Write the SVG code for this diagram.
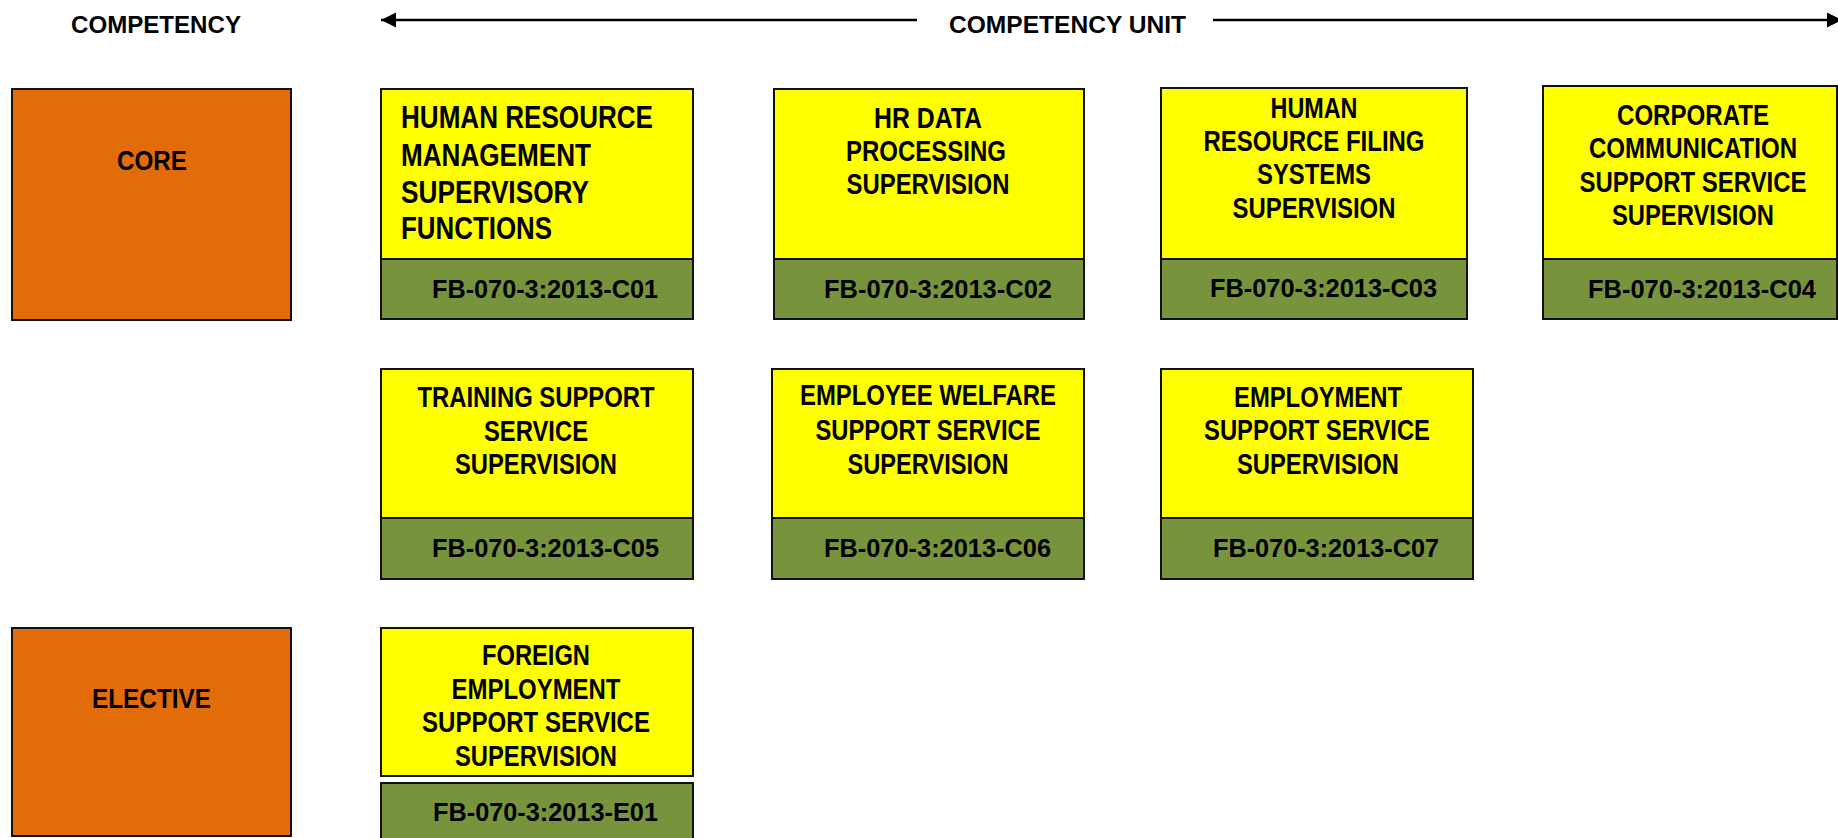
<svg xmlns="http://www.w3.org/2000/svg" width="1838" height="838" viewBox="0 0 1838 838">
  <style>
    .bg { fill: #ffffff; }
    .cat { fill: #E36C0A; stroke: #111111; stroke-width: 2; }
    .unit { fill: #FFFF00; stroke: #111111; stroke-width: 2; }
    .code { fill: #77933C; stroke: #111111; stroke-width: 2; }
    .hdr { font-family: "Liberation Sans", Arial, sans-serif; font-weight: bold; font-size: 24px; fill: #000000; }
    .lbl { font-family: "Liberation Sans", Arial, sans-serif; font-weight: bold; font-size: 27px; fill: #000000; }
    .ttl { font-family: "Liberation Sans Narrow", "Liberation Sans", Arial, sans-serif; font-weight: bold; font-size: 29px; fill: #000000; }
    .ttl-lg { font-size: 32px; }
    .cid { font-family: "Liberation Sans", Arial, sans-serif; font-weight: bold; font-size: 26px; fill: #000000; }
    .span { fill: none; stroke: #000000; stroke-width: 2.5; }
  </style>
  <defs>
    <marker id="head" markerUnits="userSpaceOnUse" markerWidth="16" markerHeight="16" refX="15" refY="7.5" orient="auto">
      <path d="M0,0 L15,7.5 L0,15 Z" fill="#000000"/>
    </marker>
  </defs>

  <rect class="bg" x="0" y="0" width="1838" height="838"/>

  <!-- column headers -->
  <g id="header-competency">
    <text class="hdr" x="71" y="33" textLength="170" lengthAdjust="spacingAndGlyphs">COMPETENCY</text>
  </g>
  <g id="header-unit">
    <text class="hdr" x="949" y="33" textLength="237" lengthAdjust="spacingAndGlyphs">COMPETENCY UNIT</text>
  </g>

  <!-- span arrows either side of the unit header -->
  <g id="connectors">
    <path class="span" d="M917,20 L381,20" marker-end="url(#head)"/>
    <path class="span" d="M1213,20 L1842,20" marker-end="url(#head)"/>
  </g>

  <!-- competency categories -->
  <g id="core">
    <rect class="cat" x="12" y="89" width="279" height="231"/>
    <text class="lbl" x="117" y="170" textLength="70" lengthAdjust="spacingAndGlyphs">CORE</text>
  </g>
  <g id="elective">
    <rect class="cat" x="12" y="628" width="279" height="208"/>
    <text class="lbl" x="92" y="708" textLength="119" lengthAdjust="spacingAndGlyphs">ELECTIVE</text>
  </g>

  <!-- core units, row 1 -->
  <g id="unit-c01">
    <rect class="unit" x="381" y="89" width="312" height="170"/>
    <rect class="code" x="381" y="259" width="312" height="60"/>
    <text class="ttl ttl-lg" x="401" y="128" textLength="252" lengthAdjust="spacingAndGlyphs">HUMAN RESOURCE</text>
    <text class="ttl ttl-lg" x="401" y="166" textLength="190" lengthAdjust="spacingAndGlyphs">MANAGEMENT</text>
    <text class="ttl ttl-lg" x="401" y="203" textLength="188" lengthAdjust="spacingAndGlyphs">SUPERVISORY</text>
    <text class="ttl ttl-lg" x="401" y="239" textLength="151" lengthAdjust="spacingAndGlyphs">FUNCTIONS</text>
    <text class="cid" x="432" y="298" textLength="226" lengthAdjust="spacingAndGlyphs">FB-070-3:2013-C01</text>
  </g>

  <g id="unit-c02">
    <rect class="unit" x="774" y="89" width="310" height="170"/>
    <rect class="code" x="774" y="259" width="310" height="60"/>
    <g text-anchor="middle">
      <text class="ttl" x="928" y="128" textLength="108" lengthAdjust="spacingAndGlyphs">HR DATA</text>
      <text class="ttl" x="926" y="161" textLength="160" lengthAdjust="spacingAndGlyphs">PROCESSING</text>
      <text class="ttl" x="928" y="194" textLength="163" lengthAdjust="spacingAndGlyphs">SUPERVISION</text>
    </g>
    <text class="cid" x="824" y="298" textLength="228" lengthAdjust="spacingAndGlyphs">FB-070-3:2013-C02</text>
  </g>

  <g id="unit-c03">
    <rect class="unit" x="1161" y="88" width="306" height="171"/>
    <rect class="code" x="1161" y="259" width="306" height="60"/>
    <g text-anchor="middle">
      <text class="ttl" x="1314" y="118" textLength="87" lengthAdjust="spacingAndGlyphs">HUMAN</text>
      <text class="ttl" x="1314" y="151" textLength="221" lengthAdjust="spacingAndGlyphs">RESOURCE FILING</text>
      <text class="ttl" x="1314" y="184" textLength="114" lengthAdjust="spacingAndGlyphs">SYSTEMS</text>
      <text class="ttl" x="1314" y="218" textLength="163" lengthAdjust="spacingAndGlyphs">SUPERVISION</text>
    </g>
    <text class="cid" x="1210" y="297" textLength="227" lengthAdjust="spacingAndGlyphs">FB-070-3:2013-C03</text>
  </g>

  <g id="unit-c04">
    <rect class="unit" x="1543" y="86" width="294" height="173"/>
    <rect class="code" x="1543" y="259" width="294" height="60"/>
    <g text-anchor="middle">
      <text class="ttl" x="1693" y="125" textLength="152" lengthAdjust="spacingAndGlyphs">CORPORATE</text>
      <text class="ttl" x="1693" y="158" textLength="208" lengthAdjust="spacingAndGlyphs">COMMUNICATION</text>
      <text class="ttl" x="1693" y="192" textLength="227" lengthAdjust="spacingAndGlyphs">SUPPORT SERVICE</text>
      <text class="ttl" x="1693" y="225" textLength="162" lengthAdjust="spacingAndGlyphs">SUPERVISION</text>
    </g>
    <text class="cid" x="1588" y="298" textLength="228" lengthAdjust="spacingAndGlyphs">FB-070-3:2013-C04</text>
  </g>

  <!-- core units, row 2 -->
  <g id="unit-c05">
    <rect class="unit" x="381" y="369" width="312" height="149"/>
    <rect class="code" x="381" y="518" width="312" height="61"/>
    <g text-anchor="middle">
      <text class="ttl" x="536" y="407" textLength="237" lengthAdjust="spacingAndGlyphs">TRAINING SUPPORT</text>
      <text class="ttl" x="536" y="441" textLength="104" lengthAdjust="spacingAndGlyphs">SERVICE</text>
      <text class="ttl" x="536" y="474" textLength="162" lengthAdjust="spacingAndGlyphs">SUPERVISION</text>
    </g>
    <text class="cid" x="432" y="557" textLength="227" lengthAdjust="spacingAndGlyphs">FB-070-3:2013-C05</text>
  </g>

  <g id="unit-c06">
    <rect class="unit" x="772" y="369" width="312" height="149"/>
    <rect class="code" x="772" y="518" width="312" height="61"/>
    <g text-anchor="middle">
      <text class="ttl" x="928" y="405" textLength="256" lengthAdjust="spacingAndGlyphs">EMPLOYEE WELFARE</text>
      <text class="ttl" x="928" y="440" textLength="225" lengthAdjust="spacingAndGlyphs">SUPPORT SERVICE</text>
      <text class="ttl" x="928" y="474" textLength="161" lengthAdjust="spacingAndGlyphs">SUPERVISION</text>
    </g>
    <text class="cid" x="824" y="557" textLength="227" lengthAdjust="spacingAndGlyphs">FB-070-3:2013-C06</text>
  </g>

  <g id="unit-c07">
    <rect class="unit" x="1161" y="369" width="312" height="149"/>
    <rect class="code" x="1161" y="518" width="312" height="61"/>
    <g text-anchor="middle">
      <text class="ttl" x="1318" y="407" textLength="168" lengthAdjust="spacingAndGlyphs">EMPLOYMENT</text>
      <text class="ttl" x="1317" y="440" textLength="226" lengthAdjust="spacingAndGlyphs">SUPPORT SERVICE</text>
      <text class="ttl" x="1318" y="474" textLength="162" lengthAdjust="spacingAndGlyphs">SUPERVISION</text>
    </g>
    <text class="cid" x="1213" y="557" textLength="226" lengthAdjust="spacingAndGlyphs">FB-070-3:2013-C07</text>
  </g>

  <!-- elective unit -->
  <g id="unit-e01">
    <rect class="unit" x="381" y="628" width="312" height="148"/>
    <rect class="code" x="381" y="783" width="312" height="62"/>
    <g text-anchor="middle">
      <text class="ttl" x="536" y="665" textLength="108" lengthAdjust="spacingAndGlyphs">FOREIGN</text>
      <text class="ttl" x="536" y="699" textLength="169" lengthAdjust="spacingAndGlyphs">EMPLOYMENT</text>
      <text class="ttl" x="536" y="732" textLength="228" lengthAdjust="spacingAndGlyphs">SUPPORT SERVICE</text>
      <text class="ttl" x="536" y="766" textLength="162" lengthAdjust="spacingAndGlyphs">SUPERVISION</text>
    </g>
    <text class="cid" x="433" y="821" textLength="225" lengthAdjust="spacingAndGlyphs">FB-070-3:2013-E01</text>
  </g>
</svg>
